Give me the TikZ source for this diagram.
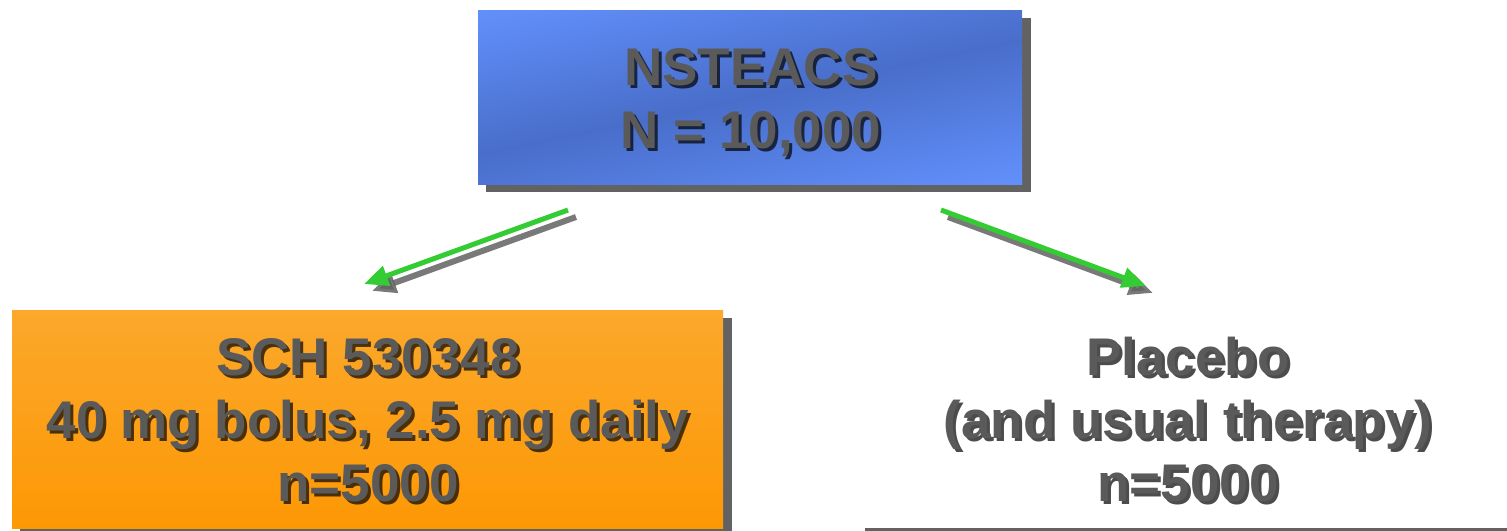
\documentclass[tikz,border=0pt]{standalone}
\usepackage{fontspec}
\setmainfont{Liberation Sans}
\usetikzlibrary{arrows.meta}
\definecolor{bluelight}{RGB}{98,144,252}
\definecolor{bluedark}{RGB}{73,110,202}
\definecolor{orangetop}{RGB}{251,168,44}
\definecolor{orangebot}{RGB}{253,152,4}
\definecolor{shadowgray}{RGB}{98,98,98}
\definecolor{labelgray}{RGB}{90,90,90}
\definecolor{arrowgreen}{RGB}{51,204,51}
\pgfdeclareverticalshading{bluebox}{100bp}{%
  color(0bp)=(bluelight); color(20bp)=(bluelight); color(50bp)=(bluedark);
  color(80bp)=(bluelight); color(100bp)=(bluelight)}
\tikzset{
  boxshadow/.style={fill=shadowgray, draw=none},
  label text/.style={font=\bfseries\fontsize{53}{63}\selectfont, align=center,
    text=labelgray, inner sep=0pt},
  label shade/.style={label text, text=black, text opacity=0.7},
  arm/.style={draw=arrowgreen, line width=5pt,
    -{Triangle[length=24pt,width=20pt]}},
  armshade/.style={draw=shadowgray, line width=6pt, opacity=0.85,
    -{Triangle[length=24pt,width=20pt]}},
}
\newcommand{\shadowedlabel}[3]{%
  \node[label shade] at ([shift={(3,3)}]#1) {#3};
  \node[label text] (#2) at (#1) {#3};}
\begin{document}
\begin{tikzpicture}[x=1pt,y=-1pt]
\useasboundingbox (0,0) rectangle (1507,530);

% drop shadows
\fill[boxshadow] (486,18) rectangle (1031,192);
\fill[boxshadow] (20,318) rectangle (732,538);
\fill[boxshadow] (865,318) rectangle (1530,538);

% boxes
\path[shading=bluebox, shading angle=12] (478,10) rectangle (1022,184);
\coordinate (top) at (751,103);
\path[top color=orangetop, bottom color=orangebot]
  (12,310) rectangle (723,528);
\coordinate (drug) at (368,420);
\fill[white] (857,310) rectangle (1525,528);
\coordinate (placebo) at (1188,420);

% labels
\shadowedlabel{top}{topT}{NSTEACS\\N = 10,000}
\shadowedlabel{drug}{drugT}{SCH 530348\\40 mg bolus, 2.5 mg daily\\n=5000}
\shadowedlabel{placebo}{placeboT}{Placebo\\(and usual therapy)\\n=5000}

% randomisation arrows
\coordinate (lA) at (568,210);
\coordinate (lB) at (364,284);
\coordinate (rA) at (941,210);
\coordinate (rB) at (1146,286);
\draw[armshade] ([shift={(8,7)}]lA) -- ([shift={(8,7)}]lB);
\draw[armshade] ([shift={(7,7)}]rA) -- ([shift={(7,7)}]rB);
\draw[arm] (lA) -- (lB);
\draw[arm] (rA) -- (rB);
\end{tikzpicture}
\end{document}
